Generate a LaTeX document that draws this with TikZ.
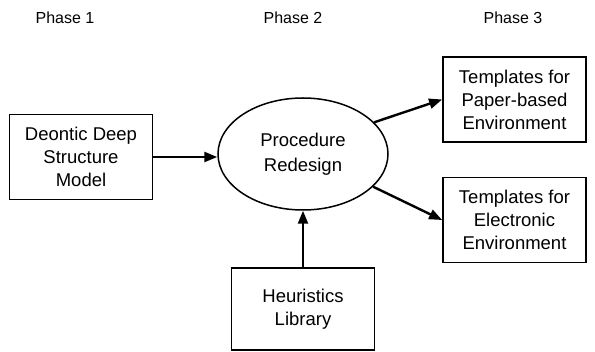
\documentclass[tikz,border=0pt]{standalone}
\usepackage{fontspec}
\setmainfont{Liberation Sans}
\usetikzlibrary{shapes.geometric,arrows.meta}

\tikzset{
  phase/.style={font=\fontsize{16}{19}\selectfont},
  stage/.style={draw, line width=1.8pt, align=center, inner sep=0pt,
    minimum width=143pt, minimum height=85pt,
    font=\fontsize{18.5}{23}\selectfont},
  core/.style={draw, ellipse, line width=1.5pt, align=center, inner sep=0pt,
    minimum width=170pt, minimum height=112pt,
    font=\fontsize{18.5}{24.5}\selectfont},
  flow/.style={line width=2.4pt, -{Triangle[length=13pt,width=10pt]}}
}

\begin{document}
\begin{tikzpicture}[x=1pt,y=-1pt]
	\useasboundingbox (0,0) rectangle (595,352);
	\node[phase] (ph1) at (65,18) {Phase 1};
	\node[phase] (ph2) at (293,18) {Phase 2};
	\node[phase] (ph3) at (513,18) {Phase 3};
	\node[stage] (model) at (81,157) {Deontic Deep\\Structure\\Model};
	\node[core] (redesign) at (303,154) {Procedure\\Redesign};
	\node[stage] (paper) at (514.5,99.5) {Templates for\\Paper-based\\Environment};
	\node[stage] (elec) at (514.5,220) {Templates for\\Electronic\\Environment};
	\node[stage, minimum height=82pt] (heur) at (303,309) {Heuristics\\Library};
	\draw[flow] (model.east) -- (model.east -| redesign.west);
	\draw[flow] (redesign.24) -- (paper.west);
	\draw[flow] (redesign.-25) -- (elec.west);
	\draw[flow] (heur.north) -- (redesign.south);
\end{tikzpicture}
\end{document}
